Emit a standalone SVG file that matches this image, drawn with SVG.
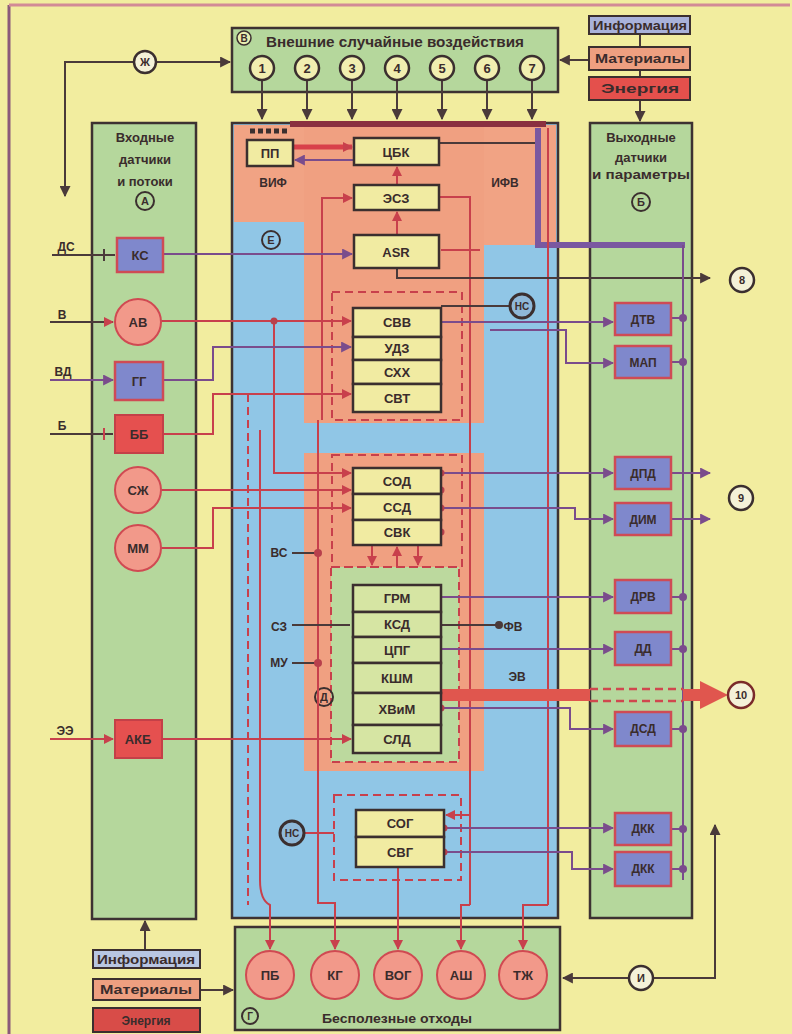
<svg xmlns="http://www.w3.org/2000/svg" width="792" height="1034" viewBox="0 0 792 1034">
<style>
.t{font-family:"Liberation Sans",Arial,sans-serif;font-weight:bold;fill:#3a2c2c;text-anchor:middle}
.s14{font-size:14px}.s13{font-size:13px}.s12{font-size:12px}.s11{font-size:11px}.s10{font-size:10px}
.col{fill:#b5d79c;stroke:#3d3232;stroke-width:2.5}
.nb{fill:#f1eba2;stroke:#3b2f2f;stroke-width:2.5}
.ng{fill:#d6e5a3;stroke:#3b2f2f;stroke-width:2.5}
.sen{fill:#7f88cc;stroke:#cf4b55;stroke-width:2.5}
.red{fill:#e5504f;stroke:#c44048;stroke-width:2}
.rc{fill:#f2998a;stroke:#d04a52;stroke-width:2}
.num{fill:#f1eeb0;stroke:#3b2f2f;stroke-width:2.5}
.cd{fill:none;stroke:#4a3a3a;stroke-width:2}
.cr{fill:none;stroke:#c8404c;stroke-width:2}
.cp{fill:none;stroke:#7a4c8c;stroke-width:2}
.dash{stroke-dasharray:8 5}
.dot{fill:#b8404c}
.pdot{fill:#7a4c8c}
</style>
<defs>
<marker id="ad" viewBox="0 0 10 10" refX="9" refY="5" markerWidth="11" markerHeight="11" orient="auto" markerUnits="userSpaceOnUse"><path d="M0,0L10,5L0,10z" fill="#4a3a3a"/></marker>
<marker id="ar" viewBox="0 0 10 10" refX="9" refY="5" markerWidth="10" markerHeight="10" orient="auto" markerUnits="userSpaceOnUse"><path d="M0,0L10,5L0,10z" fill="#c8404c"/></marker>
<marker id="ap" viewBox="0 0 10 10" refX="9" refY="5" markerWidth="11" markerHeight="11" orient="auto" markerUnits="userSpaceOnUse"><path d="M0,0L10,5L0,10z" fill="#7a4c8c"/></marker>
</defs>

<rect x="0" y="0" width="792" height="1034" fill="#f2ed9f"/>
<line x1="9" y1="5" x2="9" y2="1034" stroke="#8a5a7a" stroke-width="3"/>
<line x1="9" y1="5" x2="790" y2="5" stroke="#d28a96" stroke-width="3"/>

<g id="top-box">
<rect x="232" y="28" width="326" height="64" class="col"/>
<text x="395" y="47" class="t s14" textLength="258" lengthAdjust="spacingAndGlyphs">Внешние случайные воздействия</text>
<circle cx="244" cy="38" r="7" fill="#e8eeb0" stroke="#3b2f2f" stroke-width="1.5"/>
<text x="244" y="42" class="t s10">В</text>
</g>
<g id="left-col">
<rect x="92" y="123" width="104" height="796" class="col"/>
<text x="145" y="142" class="t s13">Входные</text>
<text x="145" y="164" class="t s13">датчики</text>
<text x="145" y="186" class="t s13">и потоки</text>
<circle cx="145" cy="201" r="9" fill="none" stroke="#3b2f2f" stroke-width="2"/>
<text x="145" y="205" class="t s11">А</text>
</g>
<g id="right-col">
<rect x="590" y="123" width="102" height="795" class="col"/>
<text x="641" y="142" class="t s13">Выходные</text>
<text x="641" y="162" class="t s13">датчики</text>
<text x="641" y="179" class="t s13" textLength="98" lengthAdjust="spacingAndGlyphs">и параметры</text>
<circle cx="641" cy="202" r="9" fill="none" stroke="#3b2f2f" stroke-width="2"/>
<text x="641" y="206" class="t s11">Б</text>
</g>
<g id="center">
<rect x="232" y="123" width="326" height="795" fill="#90c6e6" stroke="#3d3232" stroke-width="2.5"/>
<rect x="234" y="125" width="322" height="97" fill="#f1a384"/>
<rect x="484" y="125" width="72" height="120" fill="#f1a384"/>
<rect x="304" y="125" width="180" height="298" fill="#f0a081"/>
<rect x="304" y="453" width="180" height="318" fill="#f0a081"/>
<rect x="331" y="567" width="128" height="195" fill="#bcd99e" stroke="#c8404c" stroke-width="2" stroke-dasharray="8 5"/>
<rect x="332" y="292" width="130" height="128" fill="none" stroke="#c8404c" stroke-width="2" stroke-dasharray="8 5"/>
<rect x="332" y="455" width="130" height="112" fill="none" stroke="#c8404c" stroke-width="2" stroke-dasharray="8 5"/>
<rect x="334" y="795" width="127" height="85" fill="none" stroke="#c8404c" stroke-width="2" stroke-dasharray="8 5"/>
<rect x="290" y="121" width="256" height="6" fill="#8a3040"/>
<path d="M250,131h5M258,131h5M266,131h5M274,131h5M282,131h5" stroke="#3b2f2f" stroke-width="5"/>
<text x="273" y="187" class="t s12">ВИФ</text>
<text x="505" y="187" class="t s12">ИФВ</text>
<circle cx="271" cy="240" r="9" fill="none" stroke="#3b2f2f" stroke-width="2"/>
<text x="271" y="244" class="t s11">Е</text>
<circle cx="324" cy="697" r="9" fill="none" stroke="#3b2f2f" stroke-width="2"/>
<text x="324" y="701" class="t s11">Д</text>
<text x="279" y="557" class="t s12">ВС</text>
<text x="279" y="631" class="t s12">СЗ</text>
<text x="279" y="667" class="t s12">МУ</text>
<text x="513" y="631" class="t s12">ФВ</text>
<text x="517" y="681" class="t s12">ЭВ</text>
</g>
<g id="bottom-box">
<rect x="235" y="927" width="325" height="103" class="col"/>
<text x="397" y="1023" class="t s13" textLength="150" lengthAdjust="spacingAndGlyphs">Бесполезные отходы</text>
<circle cx="250" cy="1016" r="8" fill="none" stroke="#3b2f2f" stroke-width="2"/>
<text x="250" y="1020" class="t s10">Г</text>
</g>

<g id="connectors">
<path d="M262,80V119" class="cd" stroke-width="2.5" marker-end="url(#ad)"/>
<path d="M307,80V119" class="cd" stroke-width="2.5" marker-end="url(#ad)"/>
<path d="M352,80V119" class="cd" stroke-width="2.5" marker-end="url(#ad)"/>
<path d="M397,80V119" class="cd" stroke-width="2.5" marker-end="url(#ad)"/>
<path d="M442,80V119" class="cd" stroke-width="2.5" marker-end="url(#ad)"/>
<path d="M487,80V119" class="cd" stroke-width="2.5" marker-end="url(#ad)"/>
<path d="M532,80V119" class="cd" stroke-width="2.5" marker-end="url(#ad)"/>
<path d="M134,62H65V196" class="cd" stroke-width="2.5" marker-end="url(#ad)"/>
<path d="M156,62H230" class="cd" stroke-width="2.5" marker-end="url(#ad)"/>
<path d="M589,60H560" class="cd" stroke-width="2.5" marker-end="url(#ad)"/>
<path d="M640,34V47M640,70V77" class="cd"/>
<path d="M640,100V121" class="cd" stroke-width="2.5" marker-end="url(#ad)"/>
<path d="M145,950V921" class="cd" stroke-width="2.5" marker-end="url(#ad)"/>
<path d="M200,990H233" class="cd" stroke-width="2.5" marker-end="url(#ad)"/>
<path d="M630,978H563" class="cd" stroke-width="2.5" marker-end="url(#ad)"/>
<path d="M653,978H715V825" class="cd" stroke-width="2.5" marker-end="url(#ad)"/>
<path d="M293,147H352" fill="none" stroke="#d8404a" stroke-width="5" marker-end="url(#ar)"/>
<path d="M354,160H295" class="cp" stroke-width="3" marker-end="url(#ap)"/>
<path d="M397,185V167" class="cr" marker-end="url(#ar)"/>
<path d="M397,235V212" class="cr" stroke-width="3" marker-end="url(#ar)"/>
<path d="M322,420V198H352" class="cr" marker-end="url(#ar)"/>
<path d="M439,143H538" class="cd"/>
<path d="M538,128V245H685" fill="none" stroke="#7a58a0" stroke-width="6"/>
<path d="M548,128V905" class="cr"/>
<path d="M439,197H470V905" class="cr"/>
<path d="M441,250H480" class="cr"/>
<path d="M397,268V278H710" class="cd" marker-end="url(#ad)"/>
<path d="M52,255H115" class="cd"/>
<path d="M104,249V261" class="cd" stroke-width="3"/>
<path d="M163,254H352" class="cp" marker-end="url(#ap)"/>
<path d="M50,322H113" class="cd" marker-end="url(#ar)"/>
<path d="M161,321H351" class="cr" marker-end="url(#ar)"/>
<path d="M274,321V473H351" class="cr" marker-end="url(#ar)"/>
<circle cx="274" cy="321" r="3.5" class="dot"/>
<path d="M50,380H113" class="cp" marker-end="url(#ap)"/>
<path d="M163,380H213V347H351" class="cp" marker-end="url(#ap)"/>
<path d="M50,434H113" class="cd"/>
<path d="M104,428V440" class="cr" stroke-width="3"/>
<path d="M163,434H213V394H351" class="cr" marker-end="url(#ar)"/>
<path d="M248,394V905" class="cr dash"/>
<path d="M161,490H351" class="cr" marker-end="url(#ar)"/>
<path d="M161,548H213V508H351" class="cr" marker-end="url(#ar)"/>
<path d="M260,430V880Q260,900 270,905V949" class="cr" marker-end="url(#ar)"/>
<path d="M318,420V895" class="cr"/>
<path d="M50,739H113" class="cr" marker-end="url(#ar)"/>
<path d="M162,739H351" class="cr" marker-end="url(#ar)"/>
<path d="M292,553H318M292,663H318" class="cd"/>
<circle cx="318" cy="553" r="4" class="dot"/>
<circle cx="318" cy="663" r="4" class="dot"/>
<path d="M292,625H350" class="cd" stroke-width="3"/>
<path d="M441,625H500" class="cd" stroke-width="3"/>
<circle cx="499" cy="625" r="4" fill="#4a3a3a"/>
<path d="M372,545V565" class="cr" stroke-width="3" marker-end="url(#ar)"/>
<path d="M418,545V565" class="cr" stroke-width="3" marker-end="url(#ar)"/>
<path d="M397,567V547" class="cr" stroke-width="3" marker-end="url(#ar)"/>
<path d="M441,306H509" class="cd"/>
<path d="M441,322H613" class="cp" marker-end="url(#ap)"/>
<path d="M490,330H566V363H613" class="cp" marker-end="url(#ap)"/>
<path d="M441,473H613" class="cp" marker-end="url(#ap)"/>
<path d="M671,473H710" class="cp" stroke-width="2.5" marker-end="url(#ap)"/>
<path d="M441,508H575V519H613" class="cp" marker-end="url(#ap)"/>
<path d="M671,519H710" class="cp" stroke-width="2.5" marker-end="url(#ap)"/>
<path d="M441,597H613" class="cp" marker-end="url(#ap)"/>
<path d="M441,649H613" class="cp" marker-end="url(#ap)"/>
<path d="M441,708H570V729H613" class="cp" marker-end="url(#ap)"/>
<path d="M444,828H613" class="cp" marker-end="url(#ap)"/>
<path d="M444,852H572V869H613" class="cp" marker-end="url(#ap)"/>
<path d="M683,245V880" class="cp" stroke-width="2.5"/>
<path d="M671,318H683M671,362H683M671,597H683M671,649H683M671,729H683M671,829H683M671,869H683" class="cp"/>
<circle cx="683" cy="318" r="4" class="pdot"/><circle cx="683" cy="362" r="4" class="pdot"/>
<circle cx="683" cy="597" r="4" class="pdot"/><circle cx="683" cy="649" r="4" class="pdot"/>
<circle cx="683" cy="729" r="4" class="pdot"/><circle cx="683" cy="829" r="4" class="pdot"/>
<circle cx="683" cy="869" r="4" class="pdot"/>
<path d="M441,695H590" fill="none" stroke="#e0564e" stroke-width="12"/>
<path d="M590,689H683M590,701H683" fill="none" stroke="#d0484e" stroke-width="2.5" stroke-dasharray="8 5"/>
<path d="M683,695H702" fill="none" stroke="#e0564e" stroke-width="12"/>
<path d="M700,681L728,695L700,709Z" fill="#e0564e"/>
<circle cx="441" cy="473" r="3.5" class="dot"/><circle cx="441" cy="490" r="3.5" class="dot"/>
<circle cx="441" cy="508" r="3.5" class="dot"/><circle cx="441" cy="532" r="3.5" class="dot"/>
<circle cx="441" cy="708" r="3.5" class="dot"/><circle cx="444" cy="828" r="3.5" class="dot"/>
<circle cx="444" cy="852" r="3.5" class="dot"/>
<path d="M318,895V903H335V949" class="cr" marker-end="url(#ar)"/>
<path d="M398,867V949" class="cr" marker-end="url(#ar)"/>
<path d="M470,905H461V949" class="cr" marker-end="url(#ar)"/>
<path d="M548,905H523V949" class="cr" marker-end="url(#ar)"/>
<path d="M304,833H334" class="cr"/>
<path d="M470,815H446" class="cr" marker-end="url(#ar)"/>
</g>

<g id="n-circles">
<g id="c1"><circle cx="262" cy="68" r="12" class="num"/><text x="262" y="73" class="t s13">1</text></g>
<g id="c2"><circle cx="307" cy="68" r="12" class="num"/><text x="307" y="73" class="t s13">2</text></g>
<g id="c3"><circle cx="352" cy="68" r="12" class="num"/><text x="352" y="73" class="t s13">3</text></g>
<g id="c4"><circle cx="397" cy="68" r="12" class="num"/><text x="397" y="73" class="t s13">4</text></g>
<g id="c5"><circle cx="442" cy="68" r="12" class="num"/><text x="442" y="73" class="t s13">5</text></g>
<g id="c6"><circle cx="487" cy="68" r="12" class="num"/><text x="487" y="73" class="t s13">6</text></g>
<g id="c7"><circle cx="532" cy="68" r="12" class="num"/><text x="532" y="73" class="t s13">7</text></g>
<g id="zh"><circle cx="145" cy="62" r="11" fill="#f4f1d8" stroke="#3b2f2f" stroke-width="2.5"/><text x="145" y="66" class="t s11">Ж</text></g>
<g id="i"><circle cx="641" cy="978" r="12" fill="#f4f1d8" stroke="#3b2f2f" stroke-width="2.5"/><text x="641" y="982" class="t s11">И</text></g>
<g id="c8"><circle cx="742" cy="280" r="12" fill="#f4f1d8" stroke="#3b2f2f" stroke-width="2.5"/><text x="742" y="284" class="t s11">8</text></g>
<g id="c9"><circle cx="741" cy="498" r="12" fill="#f4f1d8" stroke="#3b2f2f" stroke-width="2.5"/><text x="741" y="502" class="t s11">9</text></g>
<g id="c10"><circle cx="741" cy="695" r="13" fill="#f4f1d8" stroke="#7a2a2a" stroke-width="2.5"/><text x="741" y="699" class="t s11">10</text></g>
<g id="nc1"><circle cx="522" cy="306" r="12" fill="#8fb8d8" stroke="#3b2f2f" stroke-width="3"/><text x="522" y="310" class="t s10">НС</text></g>
<g id="nc2"><circle cx="292" cy="833" r="12" fill="#8fb8d8" stroke="#3b2f2f" stroke-width="3"/><text x="292" y="837" class="t s10">НС</text></g>
</g>

<g id="res-top">
<rect x="589" y="16" width="101" height="18" fill="#a9b2da" stroke="#3b2f2f" stroke-width="2"/><text x="640" y="29.5" class="t s12" textLength="94" lengthAdjust="spacingAndGlyphs">Информация</text>
<rect x="589" y="47" width="101" height="23" fill="#ee9f80" stroke="#3b2f2f" stroke-width="2"/><text x="640" y="63" class="t s12" textLength="90" lengthAdjust="spacingAndGlyphs">Материалы</text>
<rect x="589" y="77" width="101" height="23" fill="#e4504c" stroke="#3b2f2f" stroke-width="2"/><text x="640" y="93" class="t s12" textLength="78" lengthAdjust="spacingAndGlyphs">Энергия</text>
</g>
<g id="res-bottom">
<rect x="93" y="950" width="107" height="18" fill="#b8c6e2" stroke="#3b2f2f" stroke-width="2"/><text x="146" y="963.5" class="t s12" textLength="98" lengthAdjust="spacingAndGlyphs">Информация</text>
<rect x="93" y="979" width="107" height="21" fill="#ee9f80" stroke="#3b2f2f" stroke-width="2"/><text x="146" y="994" class="t s12" textLength="92" lengthAdjust="spacingAndGlyphs">Материалы</text>
<rect x="93" y="1008" width="107" height="24" fill="#d84c48" stroke="#3b2f2f" stroke-width="2"/><text x="146" y="1025" class="t s12">Энергия</text>
</g>

<g id="left-nodes">
<text x="66" y="251" class="t s12">ДС</text>
<text x="62" y="319" class="t s12">В</text>
<text x="63" y="376" class="t s12">ВД</text>
<text x="62" y="430" class="t s12">Б</text>
<text x="65" y="735" class="t s12">ЭЭ</text>
<g id="ks"><rect x="117" y="238" width="46" height="34" class="sen"/><text x="140" y="260" class="t s13">КС</text></g>
<g id="av"><circle cx="138" cy="322" r="23" class="rc"/><text x="138" y="327" class="t s13">АВ</text></g>
<g id="gg"><rect x="115" y="362" width="48" height="38" class="sen"/><text x="139" y="386" class="t s13">ГГ</text></g>
<g id="bb"><rect x="115" y="415" width="48" height="38" class="red"/><text x="139" y="439" class="t s13">ББ</text></g>
<g id="szh"><circle cx="138" cy="490" r="23" class="rc"/><text x="138" y="495" class="t s13">СЖ</text></g>
<g id="mm"><circle cx="138" cy="548" r="23" class="rc"/><text x="138" y="553" class="t s13">ММ</text></g>
<g id="akb"><rect x="115" y="720" width="47" height="38" class="red"/><text x="138" y="744" class="t s13">АКБ</text></g>
</g>

<g id="center-nodes">
<g id="pp"><rect x="247" y="140" width="46" height="26" class="nb"/><text x="270" y="158" class="t s13">ПП</text></g>
<g id="cbk"><rect x="354" y="138" width="85" height="27" class="nb"/><text x="396" y="157" class="t s13">ЦБК</text></g>
<g id="esz"><rect x="354" y="185" width="85" height="25" class="nb"/><text x="396" y="203" class="t s13">ЭСЗ</text></g>
<g id="asr"><rect x="354" y="235" width="85" height="33" class="nb"/><text x="396" y="257" class="t s13">ASR</text></g>
<g id="svv"><rect x="353" y="308" width="88" height="29" class="nb"/><text x="397" y="327" class="t s13">СВВ</text></g>
<g id="udz"><rect x="353" y="337" width="88" height="23" class="nb"/><text x="397" y="353" class="t s13">УДЗ</text></g>
<g id="shh"><rect x="353" y="360" width="88" height="24" class="nb"/><text x="397" y="377" class="t s13">СХХ</text></g>
<g id="svt"><rect x="353" y="384" width="88" height="28" class="nb"/><text x="397" y="403" class="t s13">СВТ</text></g>
<g id="sod"><rect x="353" y="468" width="88" height="26" class="nb"/><text x="397" y="486" class="t s13">СОД</text></g>
<g id="ssd"><rect x="353" y="494" width="88" height="26" class="nb"/><text x="397" y="512" class="t s13">ССД</text></g>
<g id="svk"><rect x="353" y="520" width="88" height="25" class="nb"/><text x="397" y="537" class="t s13">СВК</text></g>
<g id="grm"><rect x="353" y="585" width="88" height="27" class="ng"/><text x="397" y="603" class="t s13">ГРМ</text></g>
<g id="ksd"><rect x="353" y="612" width="88" height="25" class="ng"/><text x="397" y="629" class="t s13">КСД</text></g>
<g id="cpg"><rect x="353" y="637" width="88" height="26" class="ng"/><text x="397" y="655" class="t s13">ЦПГ</text></g>
<g id="kshm"><rect x="353" y="663" width="88" height="30" class="ng"/><text x="397" y="683" class="t s13">КШМ</text></g>
<g id="hvim"><rect x="353" y="693" width="88" height="32" class="ng"/><text x="397" y="714" class="t s13">ХВиМ</text></g>
<g id="sld"><rect x="353" y="725" width="88" height="28" class="ng"/><text x="397" y="744" class="t s13">СЛД</text></g>
<g id="sog"><rect x="356" y="810" width="88" height="27" class="nb"/><text x="400" y="828" class="t s13">СОГ</text></g>
<g id="svg"><rect x="356" y="837" width="88" height="30" class="nb"/><text x="400" y="857" class="t s13">СВГ</text></g>
</g>

<g id="right-nodes">
<g id="dtv"><rect x="615" y="303" width="56" height="32" class="sen"/><text x="643" y="324" class="t s12">ДТВ</text></g>
<g id="map"><rect x="615" y="346" width="56" height="32" class="sen"/><text x="643" y="367" class="t s12">МАП</text></g>
<g id="dpd"><rect x="615" y="457" width="56" height="32" class="sen"/><text x="643" y="478" class="t s12">ДПД</text></g>
<g id="dim"><rect x="615" y="503" width="56" height="32" class="sen"/><text x="643" y="524" class="t s12">ДИМ</text></g>
<g id="drv"><rect x="615" y="580" width="56" height="33" class="sen"/><text x="643" y="601" class="t s12">ДРВ</text></g>
<g id="dd"><rect x="615" y="632" width="56" height="33" class="sen"/><text x="643" y="653" class="t s12">ДД</text></g>
<g id="dsd"><rect x="615" y="712" width="56" height="34" class="sen"/><text x="643" y="733" class="t s12">ДСД</text></g>
<g id="dkk1"><rect x="615" y="813" width="56" height="32" class="sen"/><text x="643" y="833" class="t s12">ДКК</text></g>
<g id="dkk2"><rect x="615" y="852" width="56" height="34" class="sen"/><text x="643" y="873" class="t s12">ДКК</text></g>
</g>

<g id="waste">
<g id="pb"><circle cx="270" cy="975" r="24" class="rc"/><text x="270" y="980" class="t s13">ПБ</text></g>
<g id="kg"><circle cx="335" cy="975" r="24" class="rc"/><text x="335" y="980" class="t s13">КГ</text></g>
<g id="vog"><circle cx="398" cy="975" r="24" class="rc"/><text x="398" y="980" class="t s13">ВОГ</text></g>
<g id="ash"><circle cx="461" cy="975" r="24" class="rc"/><text x="461" y="980" class="t s13">АШ</text></g>
<g id="tzh"><circle cx="523" cy="975" r="24" class="rc"/><text x="523" y="980" class="t s13">ТЖ</text></g>
</g>
</svg>
